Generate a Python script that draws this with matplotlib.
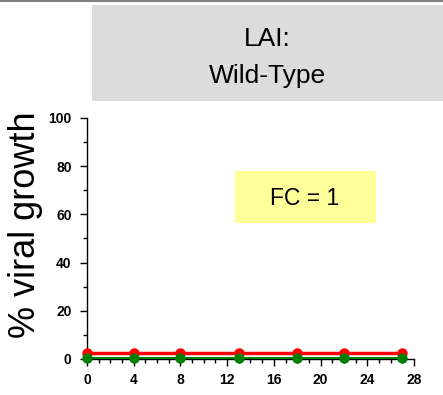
import matplotlib.pyplot as plt
from matplotlib.patches import Rectangle
from matplotlib.ticker import MultipleLocator

plt.rcParams['font.family'] = ['Liberation Sans', 'DejaVu Sans']

# sampling days and % viral growth
days = [0, 4, 8, 13, 18, 22, 27]
growth_red = [2.5, 2.5, 2.5, 2.5, 2.5, 2.5, 2.5]
growth_green = [0.5, 0.5, 0.5, 0.5, 0.5, 0.5, 0.5]
x_ticks = [0, 4, 8, 12, 16, 20, 24, 28]
y_ticks = [0, 20, 40, 60, 80, 100]

W, H = 443, 395
fig = plt.figure(figsize=(W / 100, H / 100), dpi=100)

# grey rule along the top edge
fig.add_artist(plt.Line2D([0, 1], [1 - 1 / H, 1 - 1 / H], color='#7f7f7f', lw=1.5,
                          transform=fig.transFigure))

# title panel
fig.add_artist(Rectangle((92 / W, 1 - 101 / H), 351 / W, 96 / H,
                         transform=fig.transFigure, color='#dcdcdc', lw=0))
fig.text(267.5 / W, 1 - 46 / H, 'LAI:', ha='center', va='baseline', fontsize=19)
fig.text(267.5 / W, 1 - 83 / H, 'Wild-Type', ha='center', va='baseline', fontsize=19)

ax = fig.add_axes([87 / W, 1 - 359 / H, 327 / W, 241 / H])
ax.plot(days, growth_red, color='#ff0000', lw=2.5, marker='o', markersize=6.5, clip_on=False, zorder=3)
ax.plot(days, growth_green, color='#008000', lw=1.5, marker='o', markersize=6.5, clip_on=False, zorder=4)

ax.set_xlim(0, 28)
ax.set_ylim(0, 100)
ax.set_xticks(x_ticks)
ax.set_yticks(y_ticks)
ax.xaxis.set_minor_locator(MultipleLocator(1))
ax.yaxis.set_minor_locator(MultipleLocator(10))
ax.spines['top'].set_visible(False)
ax.spines['right'].set_visible(False)
for s in ['left', 'bottom']:
    ax.spines[s].set_linewidth(1.0)
ax.tick_params(which='major', length=5, width=1, direction='out')
ax.tick_params(which='minor', length=3, width=1, direction='out')
ax.tick_params(axis='x', which='major', pad=5)
ax.tick_params(axis='y', which='major', pad=6)
for lab in ax.get_xticklabels() + ax.get_yticklabels():
    lab.set_fontweight('bold')
    lab.set_fontsize(10)

# FC annotation box
fig.add_artist(Rectangle((235 / W, 1 - 223 / H), 141 / W, 52 / H,
                         transform=fig.transFigure, color='#ffff99', lw=0))
fig.text(305 / W, 1 - 205 / H, 'FC = 1', ha='center', va='baseline', fontsize=16.5)

fig.text(35 / W, 1 - 225 / H, '% viral growth', rotation=90, rotation_mode='anchor',
         ha='center', va='baseline', fontsize=26)

fig.savefig('out.png', dpi=100)
